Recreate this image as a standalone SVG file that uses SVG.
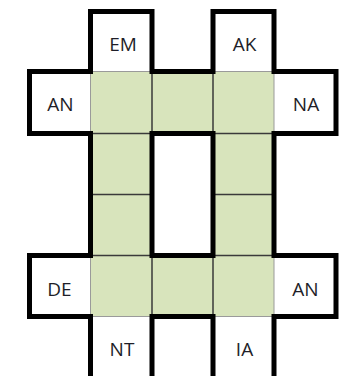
<svg xmlns="http://www.w3.org/2000/svg" width="344" height="376" viewBox="0 0 344 376">
  <style>
    .g { fill: #D8E4BC; }
    .w { fill: #FFFFFF; }
    .lbl { font-family: "Open Sans", "Liberation Sans", sans-serif; font-size: 19px; fill: #1E1E28; text-anchor: middle; }
    .thin-d { stroke: #3A3A3A; stroke-width: 1.5; fill: none; }
    .thin-l { stroke: #9A9A9A; stroke-width: 1; fill: none; }
    .thick { stroke: #000000; stroke-width: 5; fill: none; stroke-linejoin: miter; }
  </style>
  <rect x="0" y="0" width="344" height="376" fill="#FFFFFF"/>

  <!-- labelled white boxes -->
  <g id="EM"><rect class="w" x="90.5" y="11.5" width="61.5" height="60"/><text class="lbl" x="123" y="50.5">EM</text></g>
  <g id="AK"><rect class="w" x="213" y="11.5" width="61" height="60"/><text class="lbl" x="244.5" y="50.5">AK</text></g>
  <g id="AN-left"><rect class="w" x="29.5" y="71.5" width="61" height="62"/><text class="lbl" x="60.5" y="110.5">AN</text></g>
  <g id="NA"><rect class="w" x="274" y="71.5" width="62" height="62"/><text class="lbl" x="306" y="110.5">NA</text></g>
  <g id="DE"><rect class="w" x="29.5" y="255.5" width="61" height="61"/><text class="lbl" x="59.5" y="295.5">DE</text></g>
  <g id="AN-right"><rect class="w" x="274" y="255.5" width="62" height="61"/><text class="lbl" x="305.5" y="295.5">AN</text></g>
  <g id="NT"><rect class="w" x="90.5" y="316.5" width="61.5" height="70"/><text class="lbl" x="122" y="356">NT</text></g>
  <g id="IA"><rect class="w" x="213" y="316.5" width="61" height="70"/><text class="lbl" x="244.5" y="356">IA</text></g>

  <!-- green cells -->
  <g id="cell-r1c1"><rect class="g" x="90.5" y="71.5" width="61.5" height="62"/></g>
  <g id="cell-r1c2"><rect class="g" x="152" y="71.5" width="61" height="62"/></g>
  <g id="cell-r1c3"><rect class="g" x="213" y="71.5" width="61" height="62"/></g>
  <g id="cell-r2c1"><rect class="g" x="90.5" y="133.5" width="61.5" height="61"/></g>
  <g id="cell-r2c3"><rect class="g" x="213" y="133.5" width="61" height="61"/></g>
  <g id="cell-r3c1"><rect class="g" x="90.5" y="194.5" width="61.5" height="61"/></g>
  <g id="cell-r3c3"><rect class="g" x="213" y="194.5" width="61" height="61"/></g>
  <g id="cell-r4c1"><rect class="g" x="90.5" y="255.5" width="61.5" height="61"/></g>
  <g id="cell-r4c2"><rect class="g" x="152" y="255.5" width="61" height="61"/></g>
  <g id="cell-r4c3"><rect class="g" x="213" y="255.5" width="61" height="61"/></g>

  <!-- cell borders -->
  <g id="connectors">
    <path class="thin-l" d="M90.5 71.5 V133.5 M274 71.5 V133.5 M90.5 255.5 V316.5 M274 255.5 V316.5 M90.5 71.5 H152 M213 71.5 H274 M90.5 316.5 H152 M213 316.5 H274"/>
    <path class="thin-d" d="M152 71.5 V133.5 M213 71.5 V133.5 M152 255.5 V316.5 M213 255.5 V316.5 M90.5 133.5 H152 M213 133.5 H274 M90.5 194.5 H152 M213 194.5 H274 M90.5 255.5 H152 M213 255.5 H274"/>
    <path class="thick" d="M90.5 390 V316.5 H29.5 V255.5 H90.5 V133.5 H29.5 V71.5 H90.5 V11.5 H152 V71.5 H213 V11.5 H274 V71.5 H336 V133.5 H274 V255.5 H336 V316.5 H274 V390 M213 390 V316.5 H152 V390"/>
    <rect class="thick" x="152" y="133.5" width="61" height="122"/>
  </g>
</svg>
